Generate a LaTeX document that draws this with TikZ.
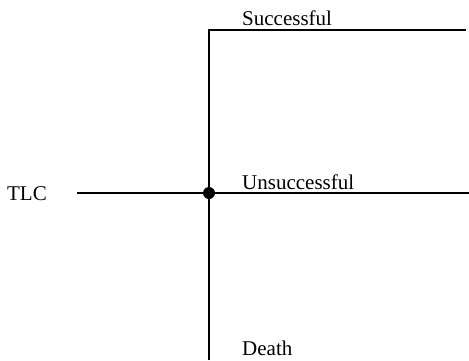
\documentclass[tikz,border=0pt]{standalone}
\usepackage{fontspec}
\setmainfont{Liberation Serif}
\usepackage{tikz}

\begin{document}
\begin{tikzpicture}[x=1pt,y=-1pt,
        lbl/.style={anchor=base west, inner sep=0pt, font=\fontsize{21}{25}\selectfont},
        branch/.style={line width=1.2pt}]
        \useasboundingbox (0,0) rectangle (469,360);
        \node[lbl, anchor=base] (tlc) at (27,200) {TLC};
        \coordinate (start) at (77,193);
        \node[circle, fill, inner sep=0pt, minimum size=12pt] (hub) at (209,193) {};
        \coordinate (up) at (209,30);
        \coordinate (down) at (209,360);
        \coordinate (succend) at (466,30);
        \coordinate (unsuccend) at (469,193);
        \draw[branch] (start) -- (hub.center) -- (unsuccend);
        \draw[branch] (down) -- (hub.center) -- (up) -- (succend);
        \node[lbl] (succ) at (242,25) {Successful};
        \node[lbl] (unsucc) at (242,189) {Unsuccessful};
        \node[lbl] (death) at (242,355) {Death};
    \end{tikzpicture}
\end{document}
